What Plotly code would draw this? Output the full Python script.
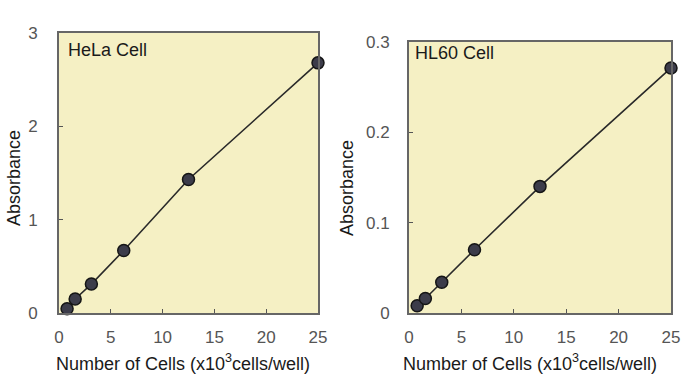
import plotly.graph_objects as go

cells = [0.78, 1.56, 3.125, 6.25, 12.5, 25]
hela_abs = [0.045, 0.15, 0.31, 0.67, 1.43, 2.68]
hl60_abs = [0.008, 0.016, 0.034, 0.070, 0.140, 0.271]
x_ticks = [0, 5, 10, 15, 20, 25]
hela_yticks = [0, 1, 2, 3]
hl60_yticks = [0, 0.1, 0.2, 0.3]
hl60_ylabels = ["0", "0.1", "0.2", "0.3"]

W, H = 700, 386
def px(x):
    return x / W
def py(y):
    return 1 - y / H

fig = go.Figure()
FONT = "Liberation Sans, Arial, sans-serif"
marker = dict(size=12, color="#3c3c4a", line=dict(color="#151515", width=1.5))
line = dict(color="#2a2a2a", width=1.6)

fig.add_trace(go.Scatter(x=cells, y=hela_abs, mode="lines+markers", marker=marker,
                         line=line, xaxis="x", yaxis="y", showlegend=False, cliponaxis=False))
fig.add_trace(go.Scatter(x=cells, y=hl60_abs, mode="lines+markers", marker=marker,
                         line=line, xaxis="x2", yaxis="y2", showlegend=False, cliponaxis=False))

axcommon = dict(showgrid=False, zeroline=False, showline=True, mirror=True,
                linecolor="#666666", linewidth=2, ticks="inside", ticklen=4,
                tickcolor="#555555", tickwidth=1, automargin=False,
                tickfont=dict(family=FONT, size=17, color="#555555"))

fig.update_layout(
    width=W, height=H,
    margin=dict(l=0, r=0, t=0, b=0, autoexpand=False),
    paper_bgcolor="white",
    plot_bgcolor="#f5f0c4",
    xaxis=dict(domain=[px(59), px(318)], range=[0, 25], tickvals=x_ticks,
               anchor="y", ticklabelstandoff=8, **axcommon),
    yaxis=dict(domain=[py(313), py(33)], range=[0, 3], tickvals=hela_yticks,
               anchor="x", ticklabelstandoff=16, **axcommon),
    xaxis2=dict(domain=[px(409), px(671)], range=[0, 25], tickvals=x_ticks,
                anchor="y2", ticklabelstandoff=8, **axcommon),
    yaxis2=dict(domain=[py(313), py(41.7)], range=[0, 0.3], tickvals=hl60_yticks,
                ticktext=hl60_ylabels, anchor="x2", ticklabelstandoff=14, **axcommon),
)

ann_font = dict(family=FONT, size=18, color="#1a1a1a")
annotations = [
    dict(text="HeLa Cell", x=px(66), y=py(50), xanchor="left", yanchor="middle"),
    dict(text="HL60 Cell", x=px(413), y=py(53), xanchor="left", yanchor="middle"),
    dict(text="Number of Cells (x10<sup>3</sup>cells/well)", x=px(183), y=py(362),
         xanchor="center", yanchor="middle"),
    dict(text="Number of Cells (x10<sup>3</sup>cells/well)", x=px(530), y=py(362),
         xanchor="center", yanchor="middle"),
    dict(text="Absorbance", x=px(14), y=py(178), textangle=-90,
         xanchor="center", yanchor="middle"),
    dict(text="Absorbance", x=px(347), y=py(188), textangle=-90,
         xanchor="center", yanchor="middle"),
]
for a in annotations:
    fig.add_annotation(xref="paper", yref="paper", showarrow=False, font=ann_font, **a)

fig.write_html("out.html", config={"displayModeBar": False},
               post_script="document.body.style.margin='0';document.body.style.padding='0';")
